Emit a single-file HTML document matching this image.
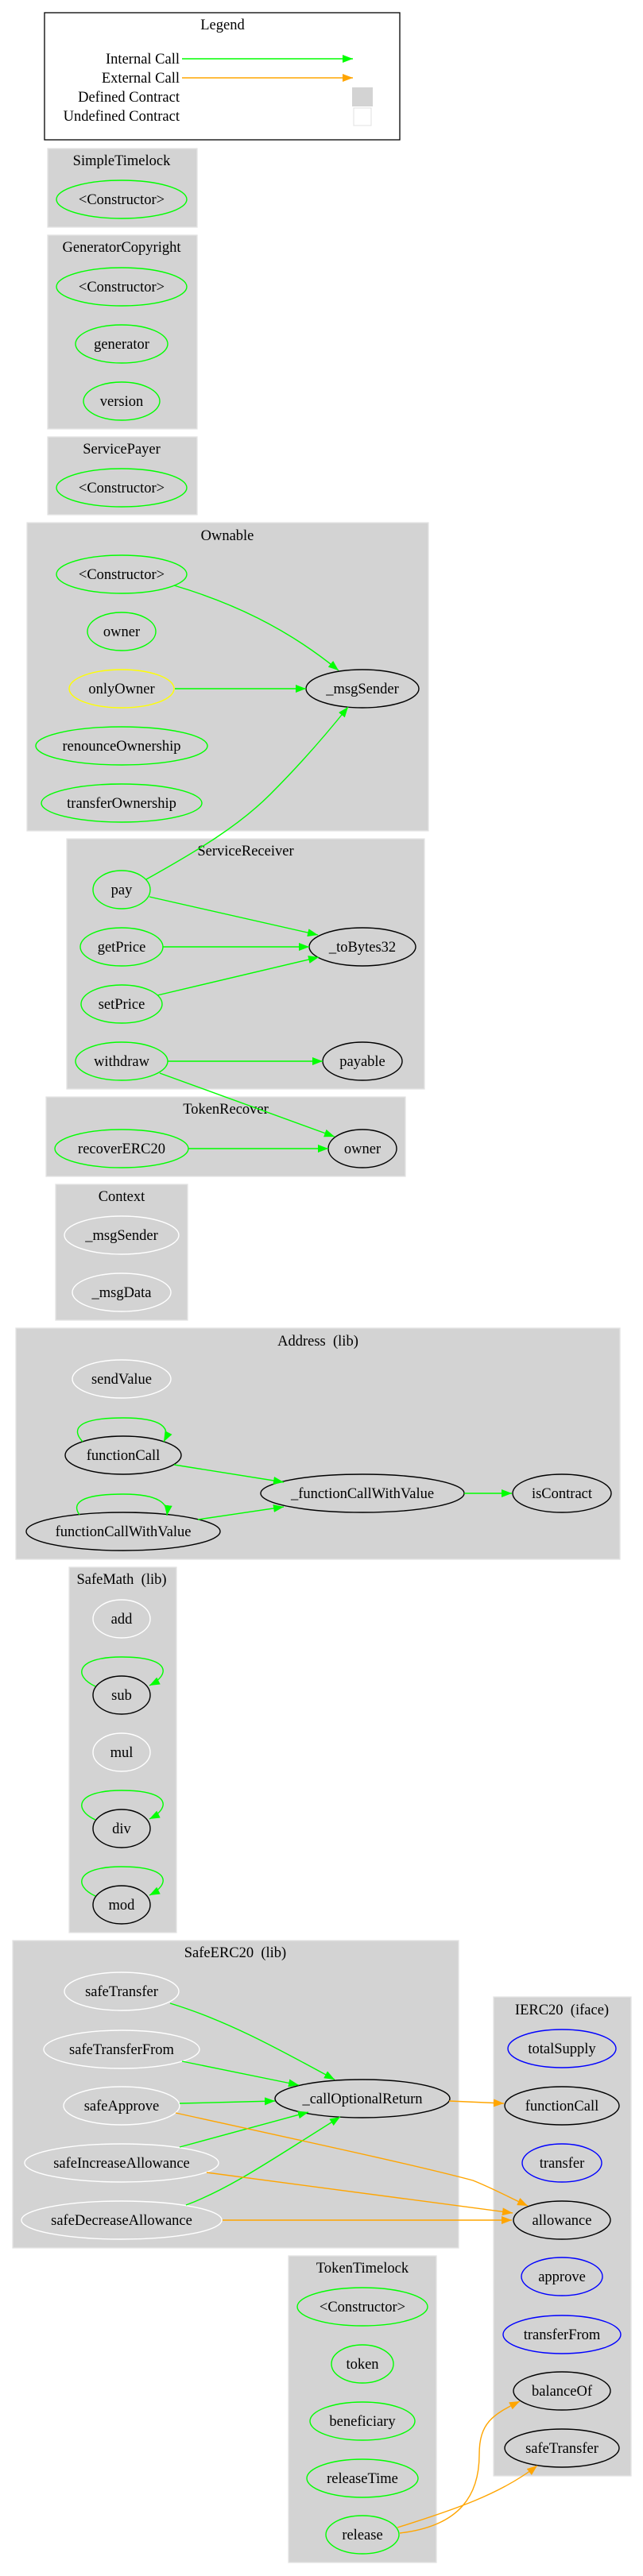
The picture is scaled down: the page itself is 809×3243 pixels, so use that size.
<!DOCTYPE html>
<html><head><meta charset="utf-8"><style>
html,body{margin:0;padding:0;background:#fff;}
svg{display:block;}
text{font-family:"Liberation Serif",serif;font-size:18.5px;text-anchor:middle;fill:#000;white-space:pre;}
.box{fill:#d3d3d3;stroke:#e3e3e3;stroke-width:1.3;}
.g{fill:none;stroke:#00ff00;stroke-width:1.4;}
.o{fill:none;stroke:#ffa500;stroke-width:1.4;}
.ng{fill:none;stroke:#00ff00;stroke-width:1.4;}
.nk{fill:none;stroke:#000;stroke-width:1.4;}
.nw{fill:none;stroke:#fff;stroke-width:1.4;}
.ny{fill:none;stroke:#ffff00;stroke-width:1.4;}
.nb{fill:none;stroke:#0000ff;stroke-width:1.4;}
</style></head><body>
<svg width="809" height="3243" viewBox="0 0 809 3243" xmlns="http://www.w3.org/2000/svg" xml:space="preserve">
<defs>
<marker id="ag" markerUnits="userSpaceOnUse" markerWidth="14" markerHeight="10" refX="13" refY="5" orient="auto"><path d="M0,0 L13,5 L0,10 z" fill="#00ff00"/></marker>
<marker id="ao" markerUnits="userSpaceOnUse" markerWidth="14" markerHeight="10" refX="13" refY="5" orient="auto"><path d="M0,0 L13,5 L0,10 z" fill="#ffa500"/></marker>
</defs>

<!-- Legend -->
<rect x="56" y="16" width="447" height="160" fill="#fff" stroke="#000" stroke-width="1.3"/>
<text x="280" y="37">Legend</text>
<text x="226" y="80" style="text-anchor:end">Internal Call</text>
<text x="226" y="104" style="text-anchor:end">External Call</text>
<text x="226" y="128" style="text-anchor:end">Defined Contract</text>
<text x="226" y="152" style="text-anchor:end">Undefined Contract</text>
<path class="g" d="M229,74 L444,74" marker-end="url(#ag)"/>
<path class="o" d="M229,98 L444,98" marker-end="url(#ao)"/>
<rect x="443" y="110" width="26" height="24" fill="#d3d3d3"/>
<rect x="445" y="136" width="22" height="22" fill="#fff" stroke="#e0e0e0"/>

<!-- SimpleTimelock -->
<rect class="box" x="60" y="187" width="188" height="99"/>
<text x="153" y="208">SimpleTimelock</text>
<ellipse class="ng" cx="153" cy="251" rx="82" ry="24"/><text x="153" y="257">&lt;Constructor&gt;</text>

<!-- GeneratorCopyright -->
<rect class="box" x="60" y="296" width="188" height="244"/>
<text x="153" y="317">GeneratorCopyright</text>
<ellipse class="ng" cx="153" cy="361" rx="82" ry="24"/><text x="153" y="367">&lt;Constructor&gt;</text>
<ellipse class="ng" cx="153" cy="433" rx="58" ry="24"/><text x="153" y="439">generator</text>
<ellipse class="ng" cx="153" cy="505" rx="48" ry="24"/><text x="153" y="511">version</text>

<!-- ServicePayer -->
<rect class="box" x="60" y="550" width="188" height="98"/>
<text x="153" y="571">ServicePayer</text>
<ellipse class="ng" cx="153" cy="614" rx="82" ry="24"/><text x="153" y="620">&lt;Constructor&gt;</text>

<!-- Ownable -->
<rect class="box" x="34" y="658" width="505" height="388"/>
<text x="286" y="680">Ownable</text>
<ellipse class="ng" cx="153" cy="723" rx="82" ry="24"/><text x="153" y="729">&lt;Constructor&gt;</text>
<ellipse class="ng" cx="153" cy="795" rx="43" ry="24"/><text x="153" y="801">owner</text>
<ellipse class="ny" cx="153" cy="867" rx="66" ry="24"/><text x="153" y="873">onlyOwner</text>
<ellipse class="ng" cx="153" cy="939" rx="108" ry="24"/><text x="153" y="945">renounceOwnership</text>
<ellipse class="ng" cx="153" cy="1011" rx="101" ry="24"/><text x="153" y="1017">transferOwnership</text>
<ellipse class="nk" cx="456" cy="867" rx="71" ry="24"/><text x="456" y="873">_msgSender</text>

<!-- ServiceReceiver -->
<rect class="box" x="84" y="1056" width="450" height="315"/>
<text x="309" y="1077">ServiceReceiver</text>
<ellipse class="ng" cx="153" cy="1120" rx="36" ry="24"/><text x="153" y="1126">pay</text>
<ellipse class="ng" cx="153" cy="1192" rx="52" ry="24"/><text x="153" y="1198">getPrice</text>
<ellipse class="ng" cx="153" cy="1264" rx="51" ry="24"/><text x="153" y="1270">setPrice</text>
<ellipse class="ng" cx="153" cy="1336" rx="58" ry="24"/><text x="153" y="1342">withdraw</text>
<ellipse class="nk" cx="456" cy="1192" rx="67" ry="24"/><text x="456" y="1198">_toBytes32</text>
<ellipse class="nk" cx="456" cy="1336" rx="50" ry="24"/><text x="456" y="1342">payable</text>

<!-- TokenRecover -->
<rect class="box" x="58" y="1381" width="452" height="100"/>
<text x="284" y="1402">TokenRecover</text>
<ellipse class="ng" cx="153" cy="1446" rx="84" ry="24"/><text x="153" y="1452">recoverERC20</text>
<ellipse class="nk" cx="456" cy="1446" rx="43" ry="24"/><text x="456" y="1452">owner</text>

<!-- Context -->
<rect class="box" x="70" y="1491" width="166" height="171"/>
<text x="153" y="1512">Context</text>
<ellipse class="nw" cx="153" cy="1555" rx="72" ry="24"/><text x="153" y="1561">_msgSender</text>
<ellipse class="nw" cx="153" cy="1627" rx="62" ry="24"/><text x="153" y="1633">_msgData</text>

<!-- Address -->
<rect class="box" x="20" y="1672" width="760" height="291"/>
<text x="400" y="1694">Address  (lib)</text>
<ellipse class="nw" cx="153" cy="1736" rx="62" ry="24"/><text x="153" y="1742">sendValue</text>
<ellipse class="nk" cx="155" cy="1832" rx="73" ry="24"/><text x="155" y="1838">functionCall</text>
<ellipse class="nk" cx="155" cy="1928" rx="122" ry="24"/><text x="155" y="1934">functionCallWithValue</text>
<ellipse class="nk" cx="456" cy="1880" rx="128" ry="24"/><text x="456" y="1886">_functionCallWithValue</text>
<ellipse class="nk" cx="707" cy="1880" rx="62" ry="24"/><text x="707" y="1886">isContract</text>

<!-- SafeMath -->
<rect class="box" x="87" y="1973" width="135" height="460"/>
<text x="153" y="1994">SafeMath  (lib)</text>
<ellipse class="nw" cx="153" cy="2038" rx="36" ry="24"/><text x="153" y="2044">add</text>
<ellipse class="nk" cx="153" cy="2134" rx="36" ry="24"/><text x="153" y="2140">sub</text>
<ellipse class="nw" cx="153" cy="2206" rx="36" ry="24"/><text x="153" y="2212">mul</text>
<ellipse class="nk" cx="153" cy="2302" rx="36" ry="24"/><text x="153" y="2308">div</text>
<ellipse class="nk" cx="153" cy="2398" rx="36" ry="24"/><text x="153" y="2404">mod</text>

<!-- SafeERC20 -->
<rect class="box" x="16" y="2443" width="561" height="387"/>
<text x="296" y="2464">SafeERC20  (lib)</text>
<ellipse class="nw" cx="153" cy="2507" rx="72" ry="24"/><text x="153" y="2513">safeTransfer</text>
<ellipse class="nw" cx="153" cy="2580" rx="98" ry="24"/><text x="153" y="2586">safeTransferFrom</text>
<ellipse class="nw" cx="153" cy="2651" rx="73" ry="24"/><text x="153" y="2657">safeApprove</text>
<ellipse class="nw" cx="153" cy="2723" rx="122" ry="24"/><text x="153" y="2729">safeIncreaseAllowance</text>
<ellipse class="nw" cx="153" cy="2795" rx="126" ry="24"/><text x="153" y="2801">safeDecreaseAllowance</text>
<ellipse class="nk" cx="456" cy="2642" rx="110" ry="24"/><text x="456" y="2648">_callOptionalReturn</text>

<!-- IERC20 -->
<rect class="box" x="621" y="2514" width="173" height="603"/>
<text x="707" y="2536">IERC20  (iface)</text>
<ellipse class="nb" cx="707" cy="2579" rx="68" ry="24"/><text x="707" y="2585">totalSupply</text>
<ellipse class="nk" cx="707" cy="2651" rx="72" ry="24"/><text x="707" y="2657">functionCall</text>
<ellipse class="nb" cx="707" cy="2723" rx="50" ry="24"/><text x="707" y="2729">transfer</text>
<ellipse class="nk" cx="707" cy="2795" rx="61" ry="24"/><text x="707" y="2801">allowance</text>
<ellipse class="nb" cx="707" cy="2866" rx="51" ry="24"/><text x="707" y="2872">approve</text>
<ellipse class="nb" cx="707" cy="2939" rx="74" ry="24"/><text x="707" y="2945">transferFrom</text>
<ellipse class="nk" cx="707" cy="3010" rx="61" ry="24"/><text x="707" y="3016">balanceOf</text>
<ellipse class="nk" cx="707" cy="3082" rx="72" ry="24"/><text x="707" y="3088">safeTransfer</text>

<!-- TokenTimelock -->
<rect class="box" x="363" y="2840" width="186" height="386"/>
<text x="456" y="2861">TokenTimelock</text>
<ellipse class="ng" cx="456" cy="2904" rx="82" ry="24"/><text x="456" y="2910">&lt;Constructor&gt;</text>
<ellipse class="ng" cx="456" cy="2976" rx="39" ry="24"/><text x="456" y="2982">token</text>
<ellipse class="ng" cx="456" cy="3048" rx="66" ry="24"/><text x="456" y="3054">beneficiary</text>
<ellipse class="ng" cx="456" cy="3120" rx="70" ry="24"/><text x="456" y="3126">releaseTime</text>
<ellipse class="ng" cx="456" cy="3191" rx="46" ry="24"/><text x="456" y="3197">release</text>

<!-- Edges: Ownable / ServiceReceiver -->
<path class="g" d="M219,737 C290,758 360,790 426,844" marker-end="url(#ag)"/>
<path class="g" d="M220,867 L385,867" marker-end="url(#ag)"/>
<path class="g" d="M184,1107 C250,1070 300,1040 340,1000 C380,960 410,925 438,890" marker-end="url(#ag)"/>
<path class="g" d="M188,1129 L400,1177" marker-end="url(#ag)"/>
<path class="g" d="M205,1192 L389,1192" marker-end="url(#ag)"/>
<path class="g" d="M198,1253 L401,1205" marker-end="url(#ag)"/>
<path class="g" d="M211,1336 L406,1336" marker-end="url(#ag)"/>
<path class="g" d="M201,1351 L421,1431" marker-end="url(#ag)"/>
<path class="g" d="M237,1446 L413,1446" marker-end="url(#ag)"/>

<!-- Address edges -->
<path class="g" d="M104,1815 C90,1800 95,1785 155,1785 C205,1785 215,1798 206,1815" marker-end="url(#ag)"/>
<path class="g" d="M100,1907 C90,1893 100,1881 155,1881 C200,1881 212,1893 210,1908" marker-end="url(#ag)"/>
<path class="g" d="M219,1844 L357,1866" marker-end="url(#ag)"/>
<path class="g" d="M249,1913 L357,1897" marker-end="url(#ag)"/>
<path class="g" d="M584,1880 L644,1880" marker-end="url(#ag)"/>

<!-- SafeMath loops -->
<path class="g" d="M120,2123 C92,2110 95,2086 153,2086 C215,2086 215,2108 188,2122" marker-end="url(#ag)"/>
<path class="g" d="M120,2291 C92,2278 95,2254 153,2254 C215,2254 215,2276 188,2290" marker-end="url(#ag)"/>
<path class="g" d="M120,2387 C92,2374 95,2350 153,2350 C215,2350 215,2372 188,2386" marker-end="url(#ag)"/>

<!-- SafeERC20 edges -->
<path class="g" d="M214,2522 C290,2545 360,2585 421,2618" marker-end="url(#ag)"/>
<path class="g" d="M229,2595 L376,2625" marker-end="url(#ag)"/>
<path class="g" d="M226,2648 L346,2645" marker-end="url(#ag)"/>
<path class="g" d="M226,2703 L388,2659" marker-end="url(#ag)"/>
<path class="g" d="M234,2776 C290,2755 340,2720 428,2665" marker-end="url(#ag)"/>
<path class="o" d="M565,2645 L634,2648" marker-end="url(#ao)"/>
<path class="o" d="M221,2660 C380,2695 520,2725 595,2745 C620,2755 640,2766 664,2777" marker-end="url(#ao)"/>
<path class="o" d="M260,2735 L645,2786" marker-end="url(#ao)"/>
<path class="o" d="M280,2795 L644,2795" marker-end="url(#ao)"/>

<!-- release edges -->
<path class="o" d="M503,3189 C580,3180 603,3140 603,3090 C603,3050 620,3040 654,3023" marker-end="url(#ao)"/>
<path class="o" d="M500,3182 C570,3160 630,3140 676,3104" marker-end="url(#ao)"/>
</svg>
</body></html>
